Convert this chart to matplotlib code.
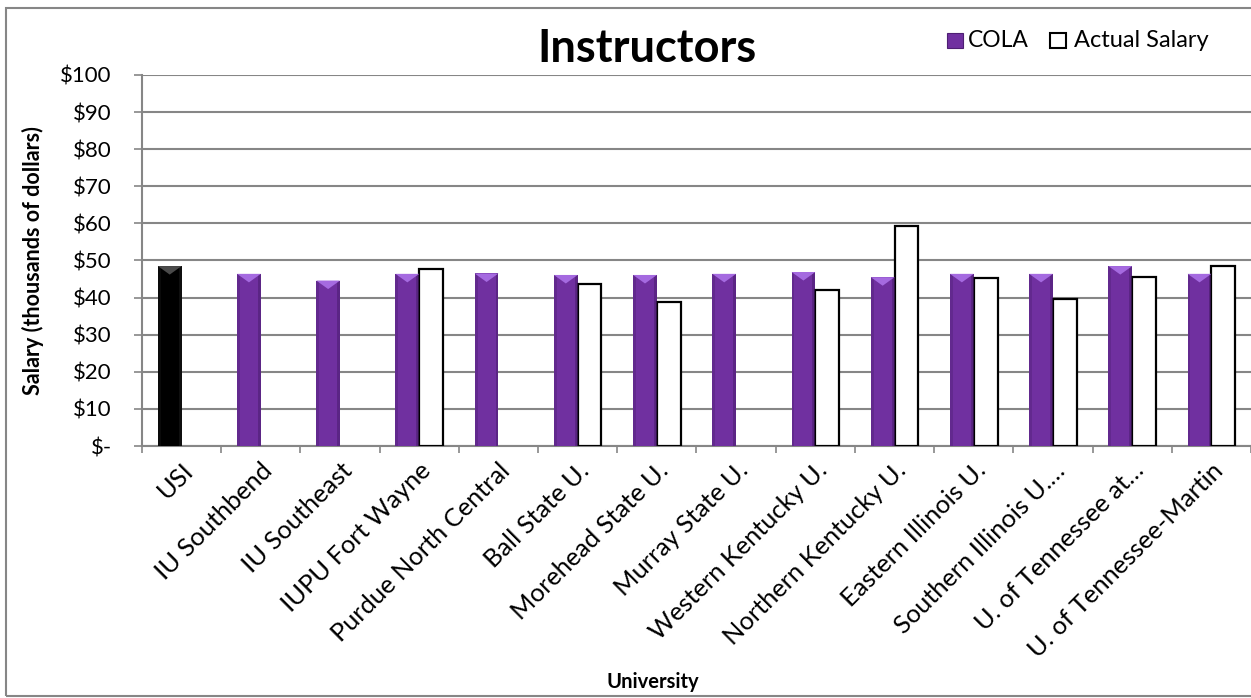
import numpy as np
import matplotlib
matplotlib.use("Agg")
import matplotlib.pyplot as plt
from matplotlib.patches import Polygon, Rectangle
from matplotlib.ticker import FuncFormatter, MultipleLocator

plt.rcParams['font.family'] = ['Lato', 'DejaVu Sans']

categories = ["USI", "IU Southbend", "IU Southeast", "IUPU Fort Wayne",
              "Purdue North Central", "Ball State U.", "Morehead State U.",
              "Murray State U.", "Western Kentucky U.", "Northern Kentucky U.",
              "Eastern Illinois U.", "Southern Illinois U.…",
              "U. of Tennessee at…", "U. of Tennessee-Martin"]
cola = [48.5, 46.4, 44.6, 46.4, 46.5, 46.1, 46.1, 46.4, 46.9, 45.5,
        46.4, 46.4, 48.5, 46.4]
actual = [np.nan, np.nan, np.nan, 47.7, np.nan, 43.7, 38.7, np.nan, 42.0,
          59.4, 45.4, 39.7, 45.6, 48.6]
highlight = "USI"

PURPLE = "#7030A0"
PURPLE_LIGHT = "#A56AE0"
PURPLE_DARK = "#4E1F73"
GRID = "#868686"

fig = plt.figure(figsize=(12.51, 6.98), dpi=100)
ax = fig.add_axes([0.1135, 0.361, 0.8865, 0.5316])

# outer chart border
fig.patches.append(Rectangle((0.005, 0.003), 1.2, 0.986, transform=fig.transFigure,
                             fill=False, edgecolor=GRID, linewidth=1.5))

x = np.arange(len(categories))
w = 0.3
cola_colors = ["black" if c == highlight else PURPLE for c in categories]
bars = ax.bar(x - w / 2, cola, width=w, color=cola_colors, edgecolor="none", zorder=3)
ax.bar(x + w / 2, actual, width=w, color="white", edgecolor="black",
       linewidth=1.6, zorder=3)

# bevelled look on the COLA bars: darker sides and a light slant at the top
for b, c in zip(bars, cola_colors):
    x0, x1 = b.get_x(), b.get_x() + b.get_width()
    h = b.get_height()
    dark = "#1a1a1a" if c == "black" else PURPLE_DARK
    light = "#4a4a4a" if c == "black" else PURPLE_LIGHT
    side = b.get_width() * 0.12
    ax.add_patch(Rectangle((x0, 0), side, h, color=dark, alpha=0.4, lw=0, zorder=3.1))
    ax.add_patch(Rectangle((x1 - side, 0), side, h, color=dark, alpha=0.6, lw=0, zorder=3.1))
    ax.add_patch(Polygon([(x0, h), (x1, h), ((x0 + x1) / 2, h - 2.3)],
                         closed=True, color=light, lw=0, zorder=3.2))

ax.set_xlim(-0.5, len(categories) - 0.5)
ax.set_ylim(0, 100)
ax.yaxis.set_major_locator(MultipleLocator(10))
ax.yaxis.set_major_formatter(FuncFormatter(lambda v, p: "$-" if v == 0 else f"${v:.0f}"))
ax.grid(axis="y", color=GRID, linewidth=1.5, zorder=0)
ax.set_axisbelow(True)

for s in ["top", "right"]:
    ax.spines[s].set_visible(False)
for s in ["left", "bottom"]:
    ax.spines[s].set_color(GRID)
    ax.spines[s].set_linewidth(1.5)

ax.set_xticks(np.arange(len(categories) + 1) - 0.5, minor=False)
ax.set_xticklabels([])
ax.tick_params(axis="x", which="major", length=5, color=GRID, width=1.2)
ax.set_xticks(x, minor=True)
ax.set_xticklabels(categories, minor=True, rotation=45, ha="right",
                   rotation_mode="anchor", fontsize=18.3)
ax.tick_params(axis="x", which="minor", length=0, pad=9)
ax.tick_params(axis="y", length=5.8, color=GRID, width=1.2, labelsize=16, pad=16)

ax.set_ylabel("Salary (thousands of dollars)", fontsize=15.5, fontweight="bold", labelpad=12)
fig.text(0.522, 0.009, "University", ha="center", va="bottom",
         fontsize=14.5, fontweight="bold")
fig.text(0.517, 0.93, "Instructors", ha="center", va="center",
         fontsize=32.5, fontweight="bold")

# legend
ly = 0.942
fig.patches.append(Rectangle((0.757, ly - 0.011), 0.0125, 0.0215, transform=fig.transFigure,
                             facecolor=PURPLE, edgecolor=PURPLE_DARK, lw=0.8))
fig.text(0.7735, ly, "COLA", ha="left", va="center", fontsize=16.5)
fig.patches.append(Rectangle((0.8395, ly - 0.011), 0.0125, 0.0215, transform=fig.transFigure,
                             facecolor="white", edgecolor="black", lw=1.5))
fig.text(0.8585, ly, "Actual Salary", ha="left", va="center", fontsize=17)

fig.savefig("out.png", dpi=100)
